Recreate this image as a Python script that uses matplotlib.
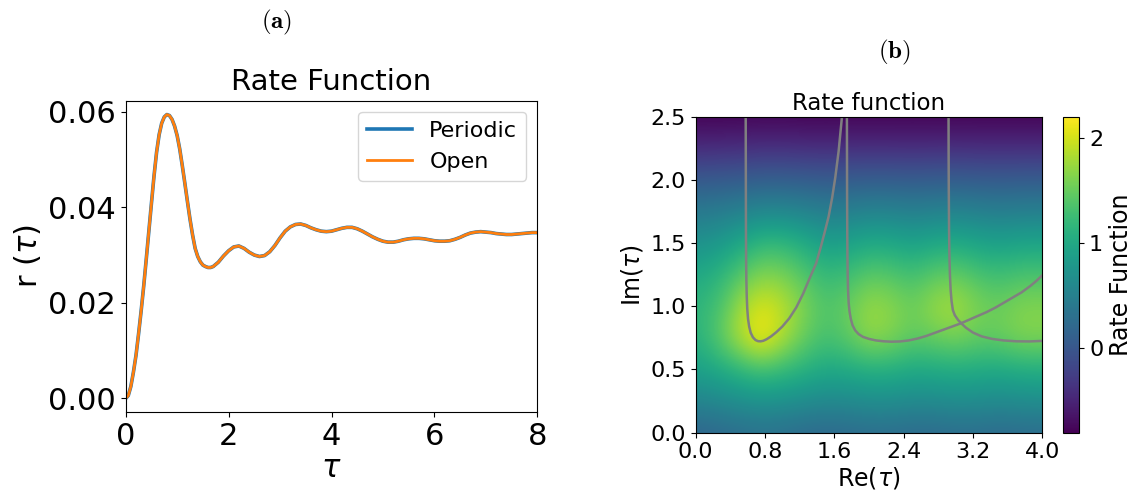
import numpy as np
import matplotlib
matplotlib.use("Agg")
import matplotlib.pyplot as plt

# ---------------- panel (a) data ----------------
tau = [0.0, 0.05, 0.1, 0.15, 0.2, 0.25, 0.3, 0.35, 0.4, 0.45, 0.5, 0.55, 0.6, 0.65,
       0.7, 0.75, 0.8, 0.85, 0.9, 0.95, 1.0, 1.05, 1.1, 1.15, 1.2, 1.25, 1.3, 1.35,
       1.4, 1.45, 1.5, 1.55, 1.6, 1.65, 1.7, 1.8, 1.9, 2.0, 2.1, 2.2, 2.3, 2.4, 2.5,
       2.6, 2.7, 2.8, 2.9, 3.0, 3.1, 3.2, 3.3, 3.4, 3.5, 3.6, 3.7, 3.8, 3.9, 4.0,
       4.1, 4.2, 4.3, 4.4, 4.5, 4.6, 4.7, 4.8, 4.9, 5.0, 5.1, 5.2, 5.3, 5.4, 5.5,
       5.6, 5.7, 5.8, 5.9, 6.0, 6.1, 6.2, 6.3, 6.4, 6.5, 6.6, 6.7, 6.8, 6.9, 7.0,
       7.1, 7.2, 7.3, 7.4, 7.5, 7.6, 7.7, 7.8, 7.9, 8.0]
rate_open = [0.0, 0.0006, 0.0025, 0.0055, 0.0090, 0.0135, 0.0183, 0.0235, 0.0292,
             0.0350, 0.0408, 0.0465, 0.0515, 0.0552, 0.0576, 0.0589, 0.0594, 0.0592,
             0.0584, 0.0570, 0.0550, 0.0522, 0.0487, 0.0450, 0.0412, 0.0375, 0.0342,
             0.0314, 0.0297, 0.0286, 0.0279, 0.0276, 0.0274, 0.0274, 0.0276, 0.0285,
             0.0298, 0.0309, 0.0317, 0.0319, 0.0314, 0.0306, 0.0300, 0.0297, 0.0299,
             0.0307, 0.0320, 0.0336, 0.0350, 0.0359, 0.0364, 0.0365, 0.0362, 0.0357,
             0.0353, 0.0350, 0.0349, 0.0350, 0.0353, 0.0356, 0.0358, 0.0358, 0.0355,
             0.0350, 0.0344, 0.0338, 0.0333, 0.0329, 0.0327, 0.0327, 0.0329, 0.0332,
             0.0334, 0.0335, 0.0335, 0.0334, 0.0332, 0.0330, 0.0329, 0.0329, 0.0330,
             0.0333, 0.0337, 0.0342, 0.0346, 0.0348, 0.0349, 0.0348, 0.0347, 0.0345,
             0.0344, 0.0343, 0.0343, 0.0344, 0.0345, 0.0346, 0.0347, 0.0347]
rate_periodic = list(rate_open)

# ---------------- panel (b) data ----------------
re_grid = [0.0, 0.25, 0.5, 0.75, 1.0, 1.25, 1.5, 1.75, 2.0, 2.25, 2.5, 2.75, 3.0,
           3.25, 3.5, 3.75, 4.0]
im_grid = [0.0, 0.25, 0.5, 0.75, 1.0, 1.25, 1.5, 1.75, 2.0, 2.25, 2.5]
# rows: Im = 0.0 ... 2.5 ; columns: Re = 0.0 ... 4.0
rate_field = [
    [0.15, 0.2, 0.25, 0.3, 0.28, 0.22, 0.2, 0.22, 0.25, 0.25, 0.22, 0.22, 0.25, 0.25, 0.22, 0.24, 0.25],
    [0.55, 0.6, 0.68, 0.72, 0.7, 0.65, 0.6, 0.62, 0.66, 0.66, 0.62, 0.63, 0.66, 0.65, 0.62, 0.65, 0.66],
    [0.9, 1.0, 1.15, 1.3, 1.22, 1.1, 1.0, 1.02, 1.08, 1.07, 1.0, 1.02, 1.05, 1.03, 1.0, 1.05, 1.06],
    [1.1, 1.4, 1.85, 2.2, 1.85, 1.5, 1.3, 1.45, 1.7, 1.62, 1.45, 1.5, 1.58, 1.47, 1.5, 1.62, 1.62],
    [1.15, 1.3, 1.75, 2.05, 1.9, 1.6, 1.38, 1.5, 1.75, 1.68, 1.52, 1.75, 1.82, 1.6, 1.52, 1.64, 1.64],
    [1.0, 1.12, 1.4, 1.65, 1.6, 1.4, 1.2, 1.28, 1.45, 1.4, 1.3, 1.45, 1.5, 1.35, 1.28, 1.35, 1.35],
    [0.72, 0.8, 0.98, 1.2, 1.2, 1.05, 0.88, 0.92, 1.02, 1.0, 0.92, 1.0, 1.03, 0.95, 0.9, 0.95, 0.95],
    [0.42, 0.45, 0.52, 0.6, 0.6, 0.55, 0.48, 0.5, 0.55, 0.54, 0.5, 0.53, 0.55, 0.51, 0.48, 0.5, 0.5],
    [0.05, 0.06, 0.08, 0.11, 0.11, 0.09, 0.07, 0.08, 0.09, 0.09, 0.08, 0.09, 0.09, 0.08, 0.07, 0.08, 0.08],
    [-0.42, -0.41, -0.4, -0.38, -0.38, -0.39, -0.4, -0.39, -0.39, -0.39, -0.4, -0.39, -0.39, -0.4, -0.4, -0.4, -0.4],
    [-0.8, -0.8, -0.8, -0.79, -0.79, -0.8, -0.8, -0.8, -0.8, -0.8, -0.8, -0.8, -0.8, -0.8, -0.8, -0.8, -0.8],
]
cbar_min, cbar_max = -0.81, 2.2

curve1_re = [0.577, 0.578, 0.579, 0.580, 0.582, 0.585, 0.589, 0.595, 0.604, 0.617,
             0.635, 0.66, 0.69, 0.72, 0.75, 0.78, 0.82, 0.87, 0.93, 1.0, 1.08, 1.16,
             1.24, 1.32, 1.39, 1.44, 1.49, 1.534, 1.575, 1.611, 1.65, 1.688]
curve1_im = [2.5, 2.2, 1.9, 1.6, 1.35, 1.2, 1.08, 0.98, 0.9, 0.84,
             0.79, 0.755, 0.733, 0.724, 0.723, 0.727, 0.74, 0.762, 0.795, 0.84, 0.905, 0.99,
             1.1, 1.23, 1.34, 1.46, 1.59, 1.71, 1.86, 2.02, 2.23, 2.5]
curve2_re = [1.745, 1.746, 1.747, 1.749, 1.751, 1.754, 1.758, 1.765, 1.775, 1.79, 1.81,
             1.84, 1.88, 1.93, 2.0, 2.08, 2.17, 2.26, 2.36, 2.46, 2.56, 2.66, 2.76,
             2.86, 2.96, 3.06, 3.16, 3.26, 3.36, 3.46, 3.56, 3.66, 3.76, 3.86, 3.93, 4.0]
curve2_im = [2.5, 2.2, 1.9, 1.6, 1.4, 1.25, 1.13, 1.03, 0.96, 0.9, 0.85,
             0.81, 0.78, 0.758, 0.742, 0.73, 0.723, 0.72, 0.722, 0.73, 0.745, 0.765, 0.79,
             0.815, 0.84, 0.865, 0.895, 0.925, 0.955, 0.99, 1.03, 1.07, 1.11, 1.16, 1.2, 1.245]
curve3_re = [2.918, 2.919, 2.921, 2.924, 2.928, 2.934, 2.942, 2.953, 2.968, 2.99, 3.03,
             3.07, 3.12, 3.2, 3.3, 3.42, 3.55, 3.7, 3.85, 4.0]
curve3_im = [2.5, 2.2, 1.9, 1.6, 1.4, 1.25, 1.13, 1.04, 0.97, 0.93, 0.89,
             0.862, 0.83, 0.792, 0.762, 0.742, 0.73, 0.723, 0.722, 0.726]

# ---------------- figure ----------------
W, H = 1131, 493
fig = plt.figure(figsize=(W / 100, H / 100), dpi=100)

def ax_rect(x0, y0, x1, y1):
    return [x0 / W, 1 - y1 / H, (x1 - x0) / W, (y1 - y0) / H]

# panel (a)
ax1 = fig.add_axes(ax_rect(125.7, 100.7, 537.3, 412.3))
ax1.plot(tau, rate_periodic, color='#1f77b4', lw=2.6, label='Periodic')
ax1.plot(tau, rate_open, color='#ff7f0e', lw=2.0, label='Open')
ax1.set_xlim(0, 8)
ax1.set_ylim(-0.0029, 0.0623)
ax1.set_xticks([0, 2, 4, 6, 8])
ax1.set_yticks([0.0, 0.02, 0.04, 0.06])
ax1.set_yticklabels(['0.00', '0.02', '0.04', '0.06'])
ax1.tick_params(labelsize=22)
ax1.set_xlabel(r'$\tau$', fontsize=22, labelpad=2)
ax1.set_ylabel(r'r ($\tau$)', fontsize=22)
ax1.set_title('Rate Function', fontsize=21, pad=8)
ax1.legend(loc='upper right', fontsize=16, handlelength=2.0)

# panel (b)
ax2 = fig.add_axes(ax_rect(695.7, 116.7, 1042.3, 432.7))
dx = re_grid[1] - re_grid[0]
dy = im_grid[1] - im_grid[0]
im = ax2.imshow(np.array(rate_field), origin='lower', aspect='auto',
                interpolation='bicubic', cmap='viridis',
                vmin=cbar_min, vmax=cbar_max,
                extent=[re_grid[0] - dx / 2, re_grid[-1] + dx / 2,
                        im_grid[0] - dy / 2, im_grid[-1] + dy / 2])
for cx, cy in [(curve1_re, curve1_im), (curve2_re, curve2_im), (curve3_re, curve3_im)]:
    ax2.plot(cx, cy, color='gray', lw=1.8)
ax2.set_xlim(0, 4)
ax2.set_ylim(0, 2.5)
ax2.set_xticks([0.0, 0.8, 1.6, 2.4, 3.2, 4.0])
ax2.set_yticks([0.0, 0.5, 1.0, 1.5, 2.0, 2.5])
ax2.tick_params(labelsize=16)
ax2.set_xlabel(r'Re($\tau$)', fontsize=17, labelpad=2)
ax2.set_ylabel(r'Im($\tau$)', fontsize=17)
ax2.set_title('Rate function', fontsize=16.5, pad=5)

cax = fig.add_axes(ax_rect(1063.3, 116.7, 1079.3, 432.7))
cb = fig.colorbar(im, cax=cax)
cb.set_ticks([0, 1, 2])
cb.ax.tick_params(labelsize=16)
cb.set_label('Rate Function', fontsize=17)

fig.text(277 / W, 1 - 22 / H, r'$\mathbf{(a)}$', ha='center', va='center',
         fontsize=18, math_fontfamily='cm')
fig.text(894 / W, 1 - 52 / H, r'$\mathbf{(b)}$', ha='center', va='center',
         fontsize=18, math_fontfamily='cm')

fig.savefig('out.png', dpi=100)
